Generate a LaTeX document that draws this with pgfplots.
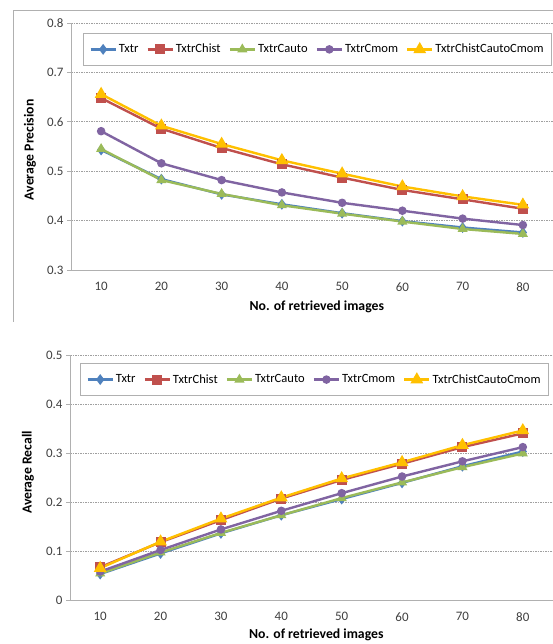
\documentclass[border=0pt]{standalone}
\usepackage{fontspec}
\setmainfont{Carlito}
\usepackage{pgfplots}
\usepackage{pgfplotstable}
\pgfplotsset{compat=1.18}

\definecolor{cTxtr}{HTML}{4F81BD}
\definecolor{cChist}{HTML}{C0504D}
\definecolor{cCauto}{HTML}{9BBB59}
\definecolor{cCmom}{HTML}{8064A2}
\definecolor{cAll}{HTML}{FFC000}
\definecolor{gridgray}{HTML}{A0A0A0}
\definecolor{axisgray}{HTML}{B0B0B0}
\definecolor{ticktext}{HTML}{404040}

% precision
\pgfplotstableread{
x  txtr  chist cauto cmom  all
10 0.543 0.648 0.545 0.581 0.656
20 0.484 0.586 0.482 0.516 0.592
30 0.453 0.547 0.454 0.482 0.555
40 0.433 0.514 0.431 0.457 0.522
50 0.415 0.487 0.414 0.436 0.495
60 0.399 0.462 0.398 0.420 0.469
70 0.386 0.443 0.383 0.404 0.449
80 0.376 0.424 0.373 0.391 0.432
}\precision

% recall
\pgfplotstableread{
x  txtr  chist cauto cmom  all
10 0.053 0.067 0.054 0.058 0.065
20 0.095 0.118 0.097 0.102 0.119
30 0.136 0.163 0.137 0.144 0.166
40 0.173 0.207 0.173 0.182 0.209
50 0.206 0.245 0.208 0.218 0.248
60 0.239 0.278 0.240 0.252 0.281
70 0.273 0.312 0.271 0.283 0.316
80 0.303 0.340 0.299 0.312 0.346
}\recall

\pgfplotsset{
  excel/.style={
    scale only axis,
    xmin=5, xmax=85,
    xtick={10,20,...,80},
    axis x line*=bottom,
    axis y line*=left,
    axis line style={axisgray, line width=0.8bp},
    ymajorgrids,
    major grid style={gridgray, line width=0.6bp, dash pattern=on 1.5bp off 1bp},
    xtick style={draw=none},
    ytick style={axisgray, line width=0.8bp},
    tick align=outside,
    major tick length=4bp,
    tick label style={font=\fontsize{13}{15}\selectfont, text=ticktext},
    xticklabel style={yshift=-5bp},
    /pgf/number format/assume math mode=true,
    label style={font=\fontsize{13.8}{16}\selectfont\bfseries},
    legend columns=5,
    legend cell align=left,
    legend style={draw=axisgray, line width=0.8bp, anchor=north west,
      font=\fontsize{12.6}{15}\selectfont, inner xsep=6bp, inner ysep=10bp,
      nodes={inner xsep=2bp, inner ysep=1bp},
      /tikz/every even column/.append style={column sep=6bp}},
    legend image code/.code={\draw[mark repeat=2,mark phase=2,##1]
      plot coordinates {(0bp,0bp) (12.5bp,0bp) (25bp,0bp)};},
  },
  sTxtr/.style={cTxtr, line width=2.4bp, mark=diamond*, mark size=3.5bp, mark options={solid, fill=cTxtr}},
  sChist/.style={cChist, line width=2.4bp, mark=square*, mark size=3.8bp, mark options={solid, fill=cChist}},
  sCauto/.style={cCauto, line width=2.4bp, mark=triangle*, mark size=3.5bp, mark options={solid, fill=cCauto}},
  sCmom/.style={cCmom, line width=2.4bp, mark=*, mark size=3bp, mark options={solid, fill=cCmom}},
  sAll/.style={cAll, line width=2.4bp, mark=triangle*, mark size=5bp, mark options={solid, fill=cAll}},
}

\begin{document}
\begin{tikzpicture}
\useasboundingbox (0,0) rectangle (553bp,644bp);
\fill[white] (0,0) rectangle (553bp,644bp);
% frame of the upper chart
\draw[axisgray, line width=0.8bp] (13.5bp,322bp) -- (13.5bp,633.5bp) -- (553bp,633.5bp);

\begin{axis}[excel,
  at={(71bp,374bp)}, anchor=south west,
  width=482bp, height=247bp,
  ymin=0.3, ymax=0.8, ytick={0.3,0.4,...,0.8},
  xlabel={No. of retrieved images},
  ylabel={Average Precision},
  x label style={at={(axis description cs:0.51,0)}, anchor=center, yshift=-37bp},
  y label style={at={(axis description cs:0,0.486)}, anchor=center, yshift=41bp},
  legend style={at={(axis description cs:0.025,0.96)}},
]
\addplot[sTxtr]  table[x=x, y=txtr]  {\precision};
\addplot[sChist] table[x=x, y=chist] {\precision};
\addplot[sCauto] table[x=x, y=cauto] {\precision};
\addplot[sCmom]  table[x=x, y=cmom]  {\precision};
\addplot[sAll]   table[x=x, y=all]   {\precision};
\legend{Txtr, TxtrChist, TxtrCauto, TxtrCmom, TxtrChistCautoCmom}
\end{axis}

\begin{axis}[excel,
  at={(70bp,44bp)}, anchor=south west,
  width=483bp, height=245bp,
  ymin=0, ymax=0.5, ytick={0,0.1,...,0.5},
  xlabel={No. of retrieved images},
  ylabel={Average Recall},
  x label style={at={(axis description cs:0.51,0)}, anchor=center, yshift=-35bp},
  y label style={at={(axis description cs:0,0.52)}, anchor=center, yshift=42bp},
  legend style={at={(axis description cs:0.021,0.967)}},
]
\addplot[sTxtr]  table[x=x, y=txtr]  {\recall};
\addplot[sChist] table[x=x, y=chist] {\recall};
\addplot[sCauto] table[x=x, y=cauto] {\recall};
\addplot[sCmom]  table[x=x, y=cmom]  {\recall};
\addplot[sAll]   table[x=x, y=all]   {\recall};
\legend{Txtr, TxtrChist, TxtrCauto, TxtrCmom, TxtrChistCautoCmom}
\end{axis}
\end{tikzpicture}
\end{document}
